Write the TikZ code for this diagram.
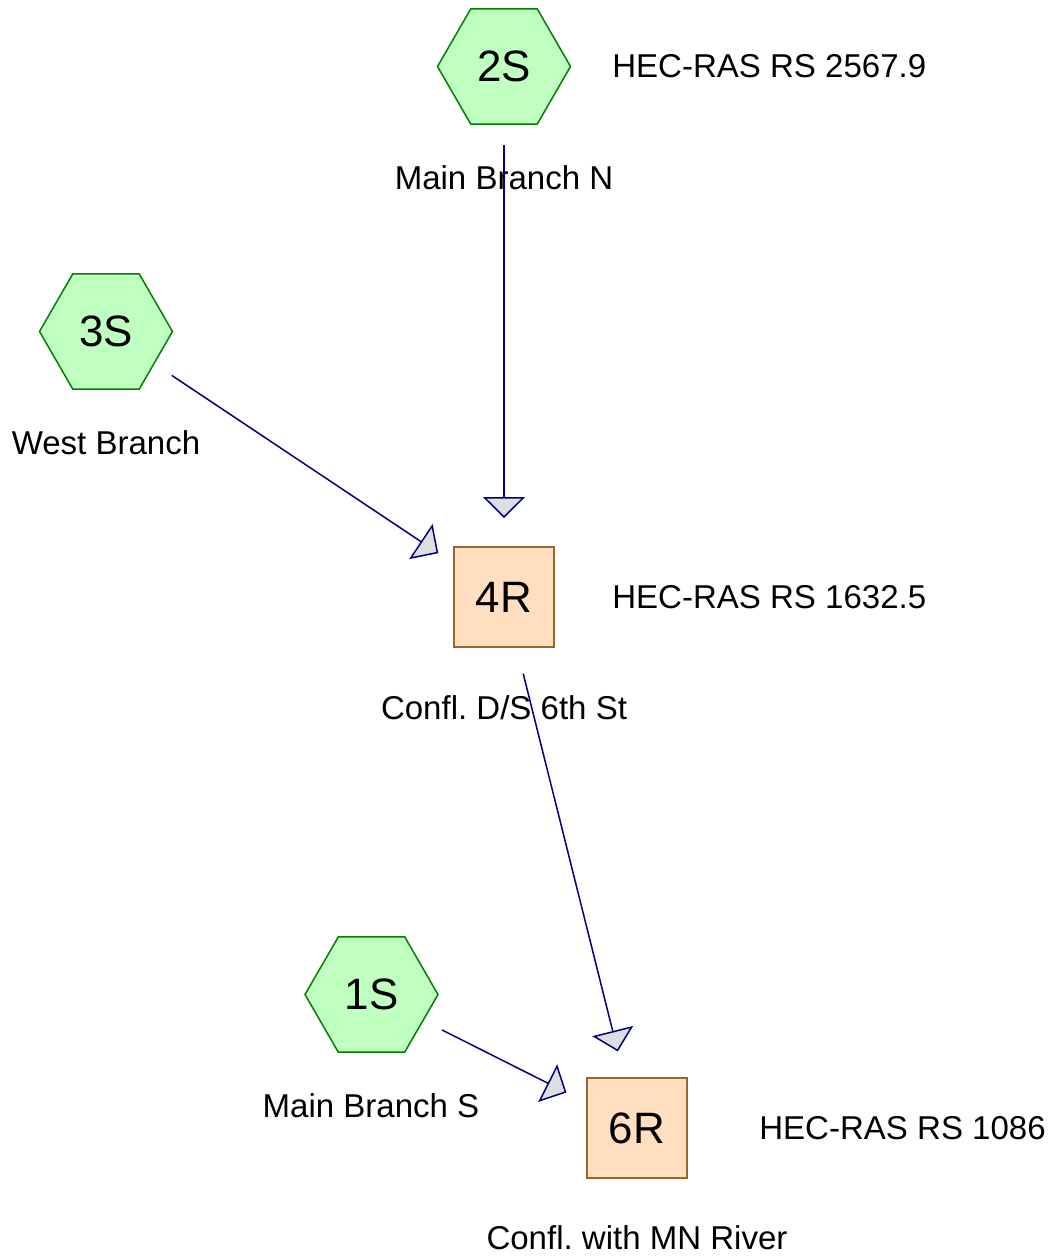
\documentclass[tikz,border=0pt]{standalone}
\usepackage{fontspec}
\setmainfont{Liberation Sans}
\frenchspacing
\usetikzlibrary{shapes.geometric,arrows.meta}

\tikzset{
	subbasin/.style={regular polygon, regular polygon sides=6, minimum size=2.66cm, inner sep=0pt,
		draw=green!50!black, fill=green!25!white, line width=0.03cm, font=\fontsize{25}{25}\selectfont},
	reach/.style={rectangle, minimum size=2cm, inner sep=0pt,
		draw=brown!80!black, fill=orange!25!white, line width=0.03cm, font=\fontsize{25}{25}\selectfont},
	tag/.style={font=\fontsize{18.8}{18.8}\selectfont, inner sep=0pt},
	flow/.style={draw=blue!50!black, line width=0.03cm, shorten <=1.58cm, shorten >=1.58cm,
		-{Triangle[length=0.42cm, width=0.84cm, fill=black!13]}}
}

\begin{document}
\begin{tikzpicture}[x=0.02cm, y=-0.02cm]

	\useasboundingbox (0,0) rectangle (1055,1256);

	\node (n2S) at (504, 66.5) [subbasin] {2S};
	\node (n3S) at (106, 331.5) [subbasin] {3S};
	\node (n1S) at (371.5, 994.5) [subbasin] {1S};
	\node (n4R) at (504, 597) [reach] {4R};
	\node (n6R) at (637, 1128) [reach] {6R};

	\node (t2S) at (504, 177.5) [tag] {Main Branch N};
	\node (t3S) at (106, 442.5) [tag] {West Branch};
	\node (t1S) at (371, 1105.5) [tag] {Main Branch S};
	\node (t4R) at (504, 708) [tag] {Confl. D/S 6th St};
	\node (t6R) at (637, 1238) [tag] {Confl. with MN River};

	\node (r2S) at (612, 66) [tag, anchor=west] {HEC-RAS RS 2567.9};
	\node (r4R) at (612, 597) [tag, anchor=west] {HEC-RAS RS 1632.5};
	\node (r6R) at (759, 1128) [tag, anchor=west] {HEC-RAS RS 1086};

	\draw [flow] (n2S.center) -- (n4R.center);
	\draw [flow] (n3S.center) -- (n4R.center);
	\draw [flow] (n4R.center) -- (n6R.center);
	\draw [flow] (n1S.center) -- (n6R.center);
\end{tikzpicture}
\end{document}
